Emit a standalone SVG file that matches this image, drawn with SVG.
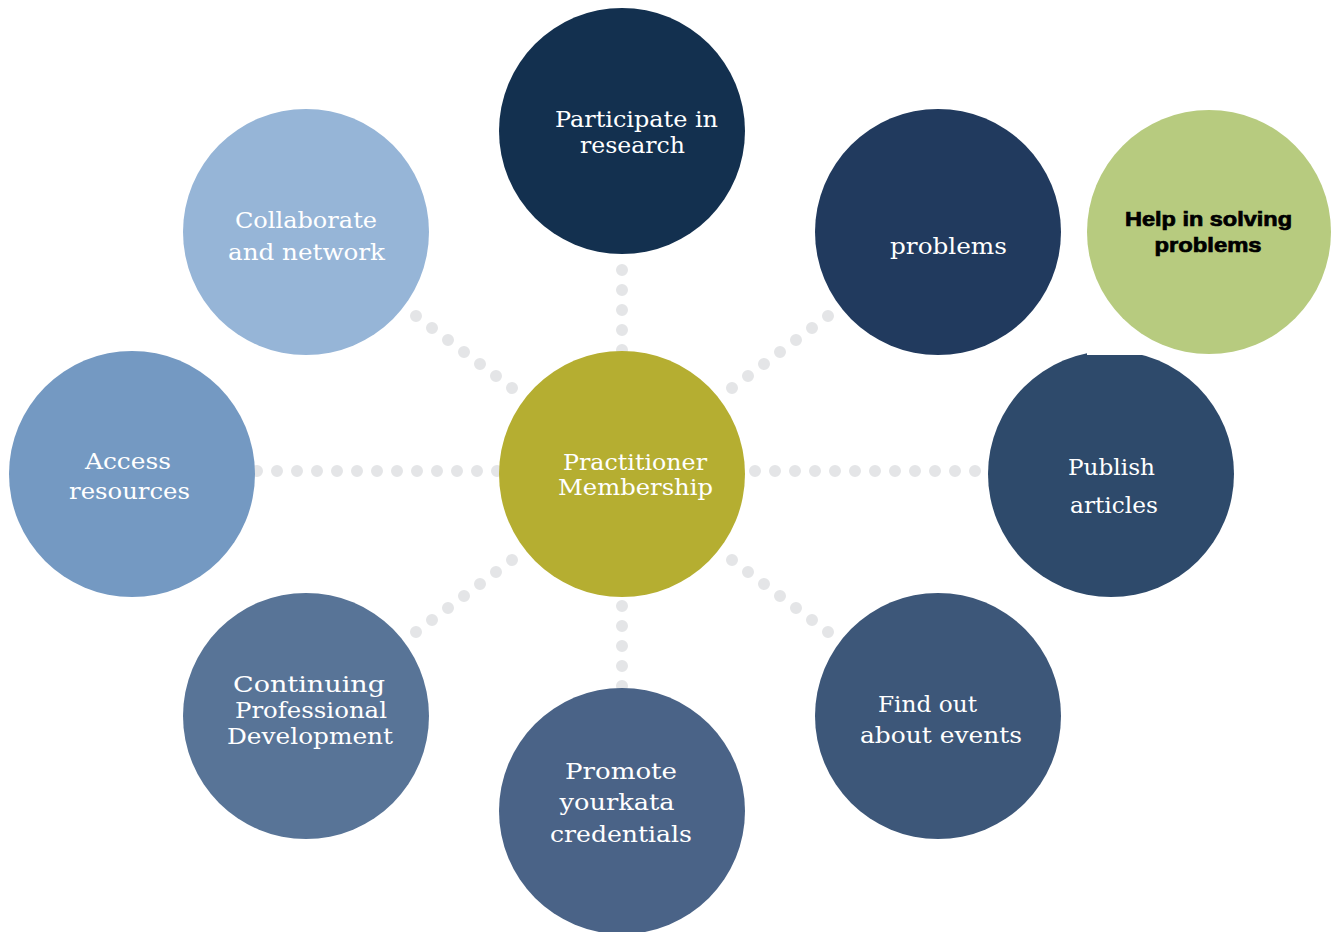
<svg xmlns="http://www.w3.org/2000/svg" width="1341" height="932" viewBox="0 0 1341 932">
<style>
.dots{fill:none;stroke:#e4e5e7;stroke-width:12;stroke-linecap:round;stroke-dasharray:0 20}
.t{font-family:"DejaVu Serif","Liberation Serif",serif;font-size:23px;fill:#ffffff;text-anchor:middle}
.b{font-family:"Liberation Sans",Arial,sans-serif;font-weight:bold;font-size:20px;fill:#000000;stroke:#000000;stroke-width:0.7;text-anchor:middle}
</style>
<rect width="1341" height="932" fill="#ffffff"/>
<g id="connectors">
<path class="dots" d="M257 471 H497.5"/>
<path class="dots" d="M755 471 H975.5"/>
<path class="dots" d="M622 270 V350.5"/>
<path class="dots" d="M622 606 V686.5"/>
<path class="dots" d="M416 316 L512.4 388.3"/>
<path class="dots" d="M828 316 L731.6 388.3"/>
<path class="dots" d="M416 632 L512.4 559.7"/>
<path class="dots" d="M828 632 L731.6 559.7"/>
</g>
<g id="participate">
<circle cx="622" cy="131" r="123" fill="#13304f"/>
<text class="t" x="636.5" y="127" textLength="163" lengthAdjust="spacingAndGlyphs">Participate in</text>
<text class="t" x="632.5" y="153" textLength="105" lengthAdjust="spacingAndGlyphs">research</text>
</g>
<g id="problems">
<circle cx="938" cy="232" r="123" fill="#213a5e"/>
<text class="t" x="948.5" y="254" textLength="117" lengthAdjust="spacingAndGlyphs">problems</text>
</g>
<g id="publish">
<circle cx="1111" cy="474" r="123" fill="#2e4a6b"/>
<text class="t" x="1111.5" y="475" textLength="87" lengthAdjust="spacingAndGlyphs">Publish</text>
<text class="t" x="1114" y="513" textLength="88" lengthAdjust="spacingAndGlyphs">articles</text>
</g>
<g id="help">
<rect x="1087" y="300" width="254" height="55" fill="#ffffff"/>
<circle cx="1209" cy="232" r="122" fill="#b7cb7f"/>
<text class="b" x="1208.5" y="226" textLength="167" lengthAdjust="spacingAndGlyphs">Help in solving</text>
<text class="b" x="1208" y="252" textLength="107" lengthAdjust="spacingAndGlyphs">problems</text>
</g>
<g id="events">
<circle cx="938" cy="716" r="123" fill="#3d5779"/>
<text class="t" x="927.5" y="712" textLength="99" lengthAdjust="spacingAndGlyphs">Find out</text>
<text class="t" x="941" y="743" textLength="162" lengthAdjust="spacingAndGlyphs">about events</text>
</g>
<g id="promote">
<circle cx="622" cy="811" r="123" fill="#4a6387"/>
<text class="t" x="621" y="779" textLength="112" lengthAdjust="spacingAndGlyphs">Promote</text>
<text class="t" x="617" y="810" textLength="115" lengthAdjust="spacingAndGlyphs">yourkata</text>
<text class="t" x="621" y="842" textLength="142" lengthAdjust="spacingAndGlyphs">credentials</text>
</g>
<g id="cpd">
<circle cx="306" cy="716" r="123" fill="#587497"/>
<text class="t" x="309" y="692" textLength="152" lengthAdjust="spacingAndGlyphs">Continuing</text>
<text class="t" x="311" y="718" textLength="152" lengthAdjust="spacingAndGlyphs">Professional</text>
<text class="t" x="310" y="744" textLength="166" lengthAdjust="spacingAndGlyphs">Development</text>
</g>
<g id="access">
<circle cx="132" cy="474" r="123" fill="#7499c2"/>
<text class="t" x="128" y="469" textLength="86" lengthAdjust="spacingAndGlyphs">Access</text>
<text class="t" x="129.5" y="499" textLength="121" lengthAdjust="spacingAndGlyphs">resources</text>
</g>
<g id="collaborate">
<circle cx="306" cy="232" r="123" fill="#96b5d7"/>
<text class="t" x="306" y="228" textLength="142" lengthAdjust="spacingAndGlyphs">Collaborate</text>
<text class="t" x="306.5" y="260" textLength="157" lengthAdjust="spacingAndGlyphs">and network</text>
</g>
<g id="center">
<circle cx="622" cy="474" r="123" fill="#b5ae31"/>
<text class="t" x="635" y="470" textLength="144" lengthAdjust="spacingAndGlyphs">Practitioner</text>
<text class="t" x="635.5" y="495" textLength="155" lengthAdjust="spacingAndGlyphs">Membership</text>
</g>
</svg>
